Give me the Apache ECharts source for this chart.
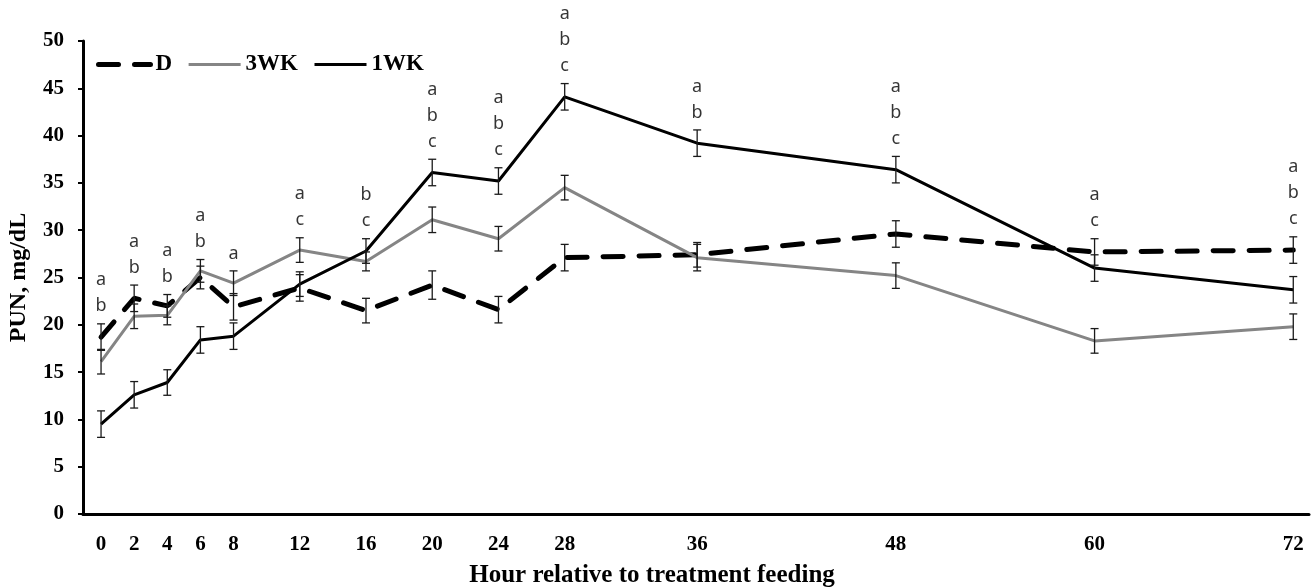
<!DOCTYPE html>
<html>
<head>
<meta charset="utf-8">
<script src="https://cdn.jsdelivr.net/npm/echarts@6/dist/echarts.min.js"></script>
<style>
html,body{margin:0;padding:0;background:#fff;}
#chart{width:1315px;height:587px;}
</style>
</head>
<body>
<div id="chart"></div>
<script>
// ---- data ----
const hours = [0, 2, 4, 6, 8, 12, 16, 20, 24, 28, 36, 48, 60, 72];
const dValues   = [18.7, 22.8, 22.0, 25.0, 21.9, 23.9, 21.5, 24.2, 21.6, 27.1, 27.4, 29.6, 27.7, 27.9];
const dSE       = [1.4, 1.4, 1.2, 1.2, 1.4, 1.4, 1.3, 1.5, 1.4, 1.4, 1.3, 1.4, 1.4, 1.4];
const wk3Values = [16.1, 20.9, 21.0, 25.7, 24.4, 27.9, 26.7, 31.1, 29.1, 34.5, 27.1, 25.2, 18.3, 19.8];
const wk3SE     = [1.3, 1.3, 1.0, 1.2, 1.3, 1.3, 1.0, 1.35, 1.3, 1.3, 1.4, 1.35, 1.3, 1.35];
const wk1Values = [9.5, 12.6, 13.9, 18.4, 18.8, 24.3, 27.8, 36.1, 35.2, 44.1, 39.2, 36.4, 26.0, 23.7];
const wk1SE     = [1.4, 1.4, 1.35, 1.4, 1.4, 1.3, 1.3, 1.4, 1.4, 1.4, 1.4, 1.4, 1.4, 1.4];
const letters   = ['ab', 'ab', 'ab', 'ab', 'a', 'ac', 'bc', 'abc', 'abc', 'abc', 'ab', 'abc', 'ac', 'abc'];
const seriesNames = ['D', '3WK', '1WK'];
const yTicks = [0, 5, 10, 15, 20, 25, 30, 35, 40, 45, 50];

// ---- build ----
const serif = '"Liberation Serif", "DejaVu Serif", serif';
const pairs = (vals) => hours.map((h, i) => [h, vals[i]]);
const errData = (vals, se) => hours.map((h, i) => [h, vals[i] - se[i], vals[i] + se[i]]);

function errRender(params, api) {
  const x = api.value(0);
  const lo = api.coord([x, api.value(1)]);
  const hi = api.coord([x, api.value(2)]);
  const w = 4;
  const st = { stroke: '#1a1a1a', lineWidth: 1.3 };
  return {
    type: 'group',
    children: [
      { type: 'line', shape: { x1: lo[0], y1: lo[1], x2: hi[0], y2: hi[1] }, style: st },
      { type: 'line', shape: { x1: lo[0] - w, y1: lo[1], x2: lo[0] + w, y2: lo[1] }, style: st },
      { type: 'line', shape: { x1: hi[0] - w, y1: hi[1], x2: hi[0] + w, y2: hi[1] }, style: st }
    ]
  };
}

const topOfBars = hours.map((h, i) => [h,
  Math.max(dValues[i] + dSE[i], wk3Values[i] + wk3SE[i], wk1Values[i] + wk1SE[i]),
  letters[i]]);

const chart = echarts.init(document.getElementById('chart'), null, { renderer: 'canvas' });
chart.setOption({
  animation: false,
  backgroundColor: '#fff',
  grid: { left: 83, right: 6, top: 41, bottom: 73, containLabel: false, outerBoundsMode: 'none' },
  legend: {
    data: seriesNames,
    left: 91, top: 48,
    itemWidth: 52, itemHeight: 14, itemGap: 15,
    itemStyle: { opacity: 0 },
    lineStyle: { width: 'inherit' },
    textStyle: { fontFamily: serif, fontWeight: 'bold', fontSize: 23, color: '#000' }
  },
  xAxis: {
    type: 'value',
    min: -1.09, max: 72.95,
    splitLine: { show: false },
    axisLine: { show: true, onZero: false, lineStyle: { color: '#000', width: 3 } },
    axisTick: { show: false },
    axisLabel: {
      customValues: hours,
      margin: 20,
      fontFamily: serif, fontWeight: 'bold', fontSize: 21, color: '#000'
    },
    name: 'Hour relative to treatment feeding',
    nameLocation: 'middle',
    nameGap: 49,
    nameTextStyle: { fontFamily: serif, fontWeight: 'bold', fontSize: 25, color: '#000', padding: [0, 88, 0, 0] }
  },
  yAxis: {
    type: 'value',
    min: 0, max: 50, interval: 5,
    splitLine: { show: false },
    axisLine: { show: true, onZero: false, lineStyle: { color: '#000', width: 3 } },
    axisTick: { show: true, length: 5, lineStyle: { color: '#000', width: 2 } },
    axisLabel: {
      customValues: yTicks,
      margin: 19,
      fontFamily: serif, fontWeight: 'bold', fontSize: 21, color: '#000'
    },
    name: 'PUN, mg/dL',
    nameLocation: 'middle',
    nameGap: 52,
    nameTextStyle: { fontFamily: serif, fontWeight: 'bold', fontSize: 24, color: '#000' }
  },
  series: [
    {
      name: 'D', type: 'line', data: pairs(dValues), symbol: 'none', z: 2,
      lineStyle: { color: '#000', width: 5, type: [20, 16], cap: 'round' },
      itemStyle: { color: '#000' }
    },
    {
      name: '3WK', type: 'line', data: pairs(wk3Values), symbol: 'none', z: 3,
      lineStyle: { color: '#858585', width: 3 },
      itemStyle: { color: '#858585' }
    },
    {
      name: '1WK', type: 'line', data: pairs(wk1Values), symbol: 'none', z: 4,
      lineStyle: { color: '#000', width: 3 },
      itemStyle: { color: '#000' }
    },
    { name: 'errD', type: 'custom', data: errData(dValues, dSE), renderItem: errRender, z: 5, silent: true },
    { name: 'err3', type: 'custom', data: errData(wk3Values, wk3SE), renderItem: errRender, z: 5, silent: true },
    { name: 'err1', type: 'custom', data: errData(wk1Values, wk1SE), renderItem: errRender, z: 5, silent: true },
    {
      name: 'letters', type: 'scatter', data: topOfBars, symbolSize: 1, z: 6, silent: true,
      itemStyle: { color: 'rgba(0,0,0,0)' },
      label: {
        show: true, position: 'top', distance: 4,
        formatter: (p) => p.value[2].split('').join('\n'),
        fontFamily: '"Noto Sans", "Open Sans", sans-serif',
        fontSize: 18, lineHeight: 26, color: '#000'
      }
    }
  ]
});
</script>
</body>
</html>
